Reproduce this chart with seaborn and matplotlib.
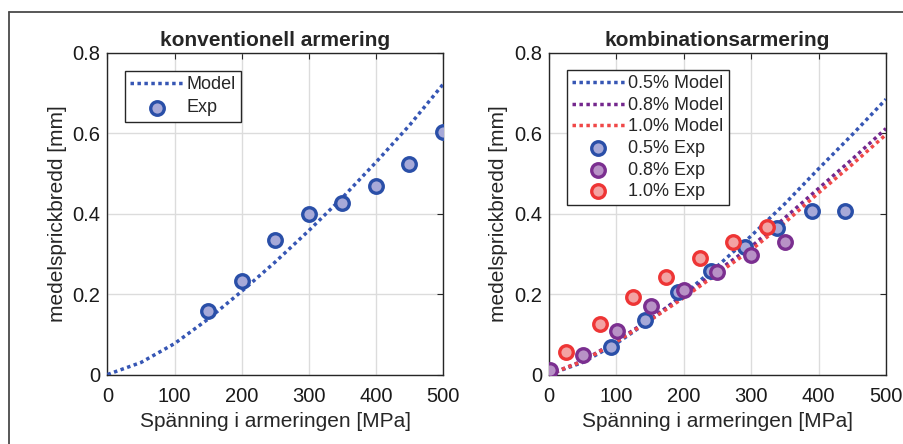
import numpy as np
import pandas as pd
import matplotlib
matplotlib.use("Agg")
import matplotlib.pyplot as plt
from matplotlib.lines import Line2D
import seaborn as sns

# ---------------- data ----------------
model_x = [0, 50, 100, 150, 200, 250, 300, 350, 400, 450, 500]
conv_model = [0, 0.030, 0.077, 0.138, 0.207, 0.280, 0.358, 0.440, 0.528, 0.620, 0.722]
conv_exp_x = [150, 200, 250, 300, 350, 400, 450, 500]
conv_exp_y = [0.159, 0.233, 0.334, 0.399, 0.426, 0.470, 0.523, 0.603]

comb_model_05 = [0, 0.030, 0.077, 0.135, 0.200, 0.270, 0.345, 0.425, 0.512, 0.597, 0.685]
comb_model_08 = [0, 0.034, 0.083, 0.138, 0.196, 0.258, 0.318, 0.390, 0.463, 0.536, 0.612]
comb_model_10 = [0, 0.033, 0.081, 0.135, 0.191, 0.251, 0.310, 0.378, 0.452, 0.523, 0.597]

exp05_x = [92, 142, 191, 240, 291, 339, 390, 439]
exp05_y = [0.068, 0.136, 0.205, 0.258, 0.318, 0.364, 0.407, 0.407]
exp08_x = [2, 51, 101, 151, 200, 250, 299, 350]
exp08_y = [0.011, 0.048, 0.109, 0.170, 0.210, 0.256, 0.297, 0.329]
exp10_x = [25, 75, 125, 174, 224, 273, 323]
exp10_y = [0.057, 0.126, 0.192, 0.243, 0.291, 0.330, 0.368]

titles = ["konventionell armering", "kombinationsarmering"]
xlabel = "Spänning i armeringen [MPa]"
ylabel = "medelsprickbredd [mm]"
xticks = [0, 100, 200, 300, 400, 500]
yticks = [0, 0.2, 0.4, 0.6, 0.8]
ytick_labels = ["0", "0.2", "0.4", "0.6", "0.8"]

# ---------------- style ----------------
sns.set_style("white")
plt.rcParams["font.family"] = ["Liberation Sans", "DejaVu Sans"]

BLUE_L = "#3656b4"
BLUE_E = "#2a4fa8"
BLUE_F = "#a7a9d8"
PURP_L = "#74278d"
PURP_E = "#7b2f90"
PURP_F = "#b892c6"
RED_L = "#f04848"
RED_E = "#ee3535"
RED_F = "#f3a3a3"

fig = plt.figure(figsize=(9.04, 4.44), dpi=100)
ax1 = fig.add_axes([107.5 / 904, (444 - 374.5) / 444, 335.5 / 904, 321.5 / 444])
ax2 = fig.add_axes([549 / 904, (444 - 374.5) / 444, 337 / 904, 321.5 / 444])

dot = (0, (1, 1))
LW = 2.5
MS = 95
MEW = 2.4

# left panel
df_m = pd.DataFrame({"x": model_x, "y": conv_model})
df_e = pd.DataFrame({"x": conv_exp_x, "y": conv_exp_y})
sns.lineplot(data=df_m, x="x", y="y", ax=ax1, color=BLUE_L, lw=LW,
             linestyle=dot, label="Model", zorder=3)
sns.scatterplot(data=df_e, x="x", y="y", ax=ax1, s=MS, marker="o",
                facecolor=BLUE_F, edgecolor=BLUE_E, linewidth=MEW,
                label="Exp", zorder=4)

# right panel
for vals, col, lab in [(comb_model_05, BLUE_L, "0.5% Model"),
                       (comb_model_08, PURP_L, "0.8% Model"),
                       (comb_model_10, RED_L, "1.0% Model")]:
    sns.lineplot(x=model_x, y=vals, ax=ax2, color=col, lw=LW,
                 linestyle=dot, label=lab, zorder=3)
for xs, ys, fc, ec, lab in [(exp05_x, exp05_y, BLUE_F, BLUE_E, "0.5% Exp"),
                            (exp08_x, exp08_y, PURP_F, PURP_E, "0.8% Exp"),
                            (exp10_x, exp10_y, RED_F, RED_E, "1.0% Exp")]:
    sns.scatterplot(x=xs, y=ys, ax=ax2, s=MS, marker="o", facecolor=fc,
                    edgecolor=ec, linewidth=MEW, label=lab, zorder=4)

for ax, title in [(ax1, titles[0]), (ax2, titles[1])]:
    ax.set_xlim(0, 500)
    ax.set_ylim(0, 0.8)
    ax.set_xticks(xticks)
    ax.set_xticklabels([str(t) for t in xticks])
    ax.set_yticks(yticks)
    ax.set_yticklabels(ytick_labels)
    ax.grid(True, color="#dcdcdc", lw=1.0)
    ax.set_axisbelow(True)
    for sp in ax.spines.values():
        sp.set_visible(True)
        sp.set_color("#262626")
        sp.set_linewidth(1.0)
    ax.tick_params(direction="in", length=4, width=0.8, top=True, right=True,
                   labelsize=14.5, colors="#262626", labelcolor="#1a1a1a")
    ax.tick_params(axis="x", pad=9)
    ax.tick_params(axis="y", pad=5)
    ax.set_title(title, fontsize=15, fontweight="bold", pad=5)
    ax.set_xlabel(xlabel, fontsize=15, labelpad=4)
    ax.set_ylabel(ylabel, fontsize=15, labelpad=4)

leg_kw = dict(loc="upper left", borderaxespad=0, fontsize=13, frameon=True,
              fancybox=False, framealpha=1, edgecolor="#262626",
              handlelength=2.9, handletextpad=0.2, borderpad=0.3)
leg1 = ax1.legend(bbox_to_anchor=(0.052, 0.944), labelspacing=0.33, **leg_kw)
leg1.get_frame().set_linewidth(1.0)
leg2 = ax2.legend(bbox_to_anchor=(0.053, 0.947), labelspacing=0.25, **leg_kw)
leg2.get_frame().set_linewidth(1.0)

# outer frame (partly cropped in the reference)
fig.add_artist(Line2D([9 / 904, 9 / 904], [0, 1 - 12 / 444],
                      transform=fig.transFigure, color="#4a4a4a", lw=1.3))
fig.add_artist(Line2D([9 / 904, 1], [1 - 12 / 444, 1 - 12 / 444],
                      transform=fig.transFigure, color="#4a4a4a", lw=1.3))

fig.savefig("out.png", dpi=100, facecolor="white")
